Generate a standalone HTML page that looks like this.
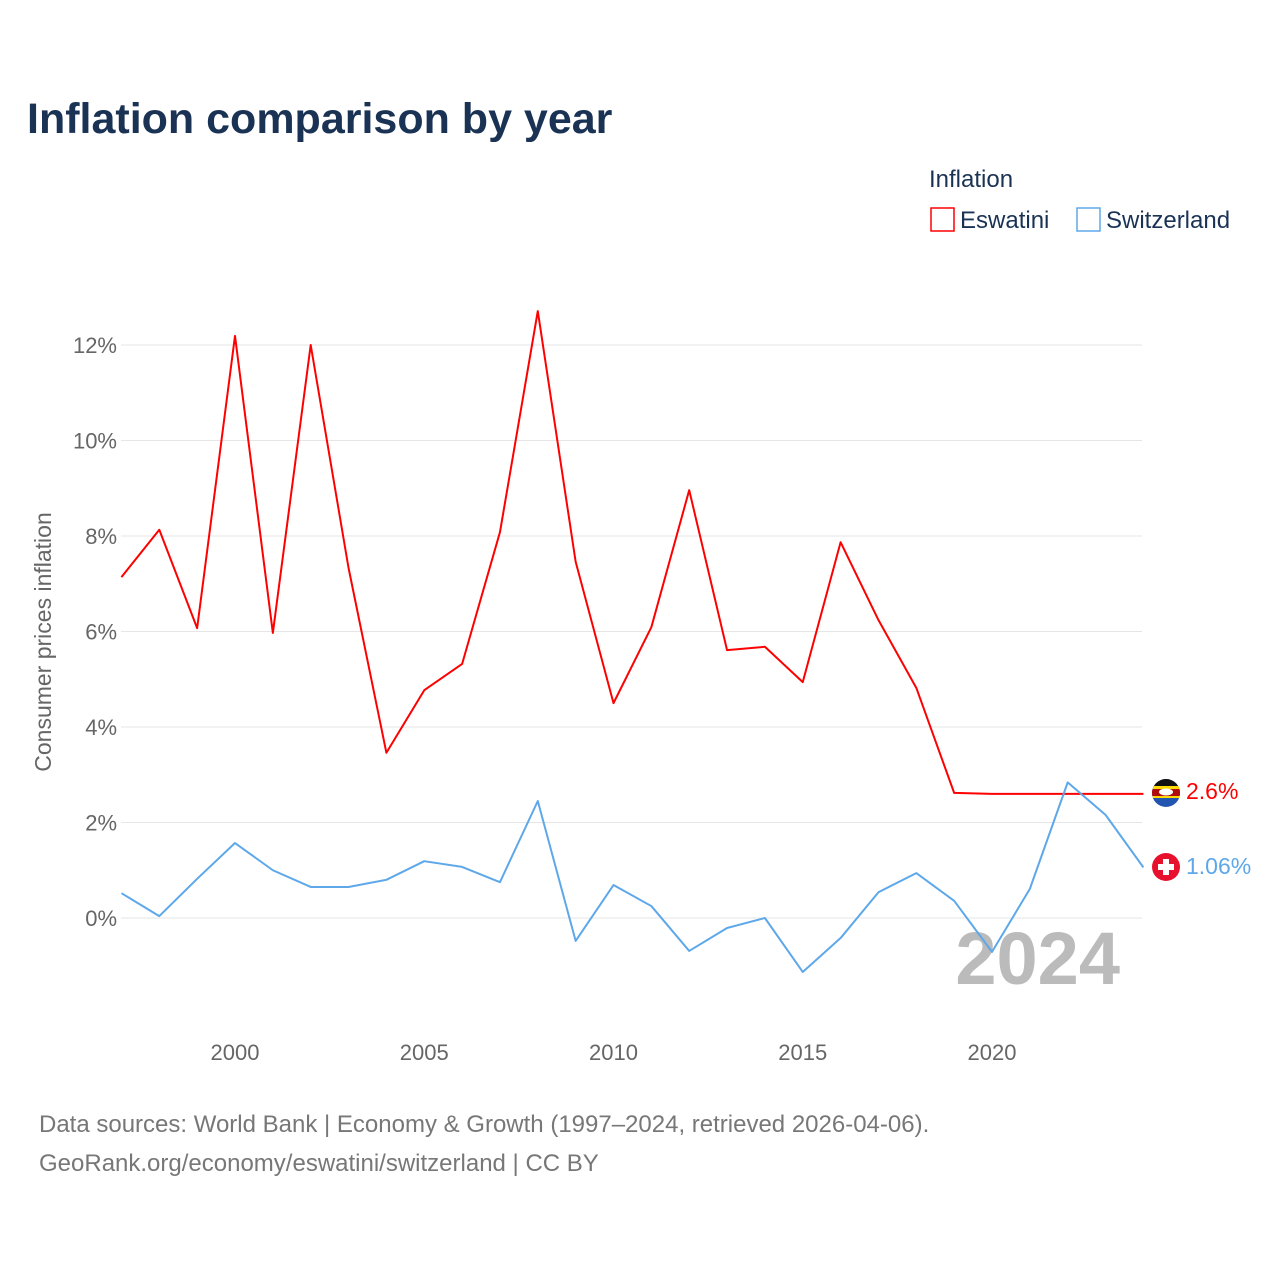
<!DOCTYPE html>
<html><head><meta charset="utf-8"><style>
body{margin:0;background:#fff;width:1280px;height:1280px;overflow:hidden;font-family:"Liberation Sans",sans-serif}
</style></head><body>
<svg width="1280" height="1280" xmlns="http://www.w3.org/2000/svg" font-family="Liberation Sans, sans-serif">
<defs><clipPath id="fc"><circle cx="1166" cy="793" r="14"/></clipPath></defs>
<text x="27" y="133" font-size="43" font-weight="bold" fill="#1a3355">Inflation comparison by year</text>
<text x="929" y="187" font-size="24" fill="#1a3355">Inflation</text>
<g><rect x="931" y="208" width="23" height="23" fill="none" stroke="#f00" stroke-width="1.5"/><text x="960" y="228" font-size="24" fill="#1a3355">Eswatini</text></g>
<g><rect x="1077" y="208" width="23" height="23" fill="none" stroke="#5ea8ea" stroke-width="1.5"/><text x="1106" y="228" font-size="24" fill="#1a3355">Switzerland</text></g>
<g id="grid"></g><g id="yt"></g><g id="xt"></g>
<text transform="translate(51,642) rotate(-90)" text-anchor="middle" font-size="23" fill="#666">Consumer prices inflation</text>
<text x="1120" y="984" text-anchor="end" font-size="74" font-weight="bold" fill="#bbb">2024</text>
<g id="series"></g>
<g clip-path="url(#fc)"><rect x="1152" y="779" width="28" height="28" fill="#2255b0"/><rect x="1152" y="779" width="28" height="9" fill="#111"/><rect x="1152" y="786" width="28" height="3" fill="#ffd900"/><rect x="1152" y="789" width="28" height="7" fill="#b10c0c"/><rect x="1152" y="796" width="28" height="2" fill="#ffd900"/><ellipse cx="1166" cy="792" rx="7" ry="3.5" fill="#fff"/></g>
<g><circle cx="1166" cy="867" r="14" fill="#e8112d"/><rect x="1163" y="859" width="6" height="16" fill="#fff"/><rect x="1158" y="864" width="16" height="6" fill="#fff"/></g>
<text x="1186" y="799" font-size="23" fill="#f00">2.6%</text>
<text x="1186" y="874" font-size="23" fill="#5ea8ea">1.06%</text>
<text x="39" y="1132" font-size="24" fill="#777">Data sources: World Bank | Economy &amp; Growth (1997–2024, retrieved 2026-04-06).</text>
<text x="39" y="1171" font-size="24" fill="#777">GeoRank.org/economy/eswatini/switzerland | CC BY</text>
</svg>
<script>
const years=[1997,1998,1999,2000,2001,2002,2003,2004,2005,2006,2007,2008,2009,2010,2011,2012,2013,2014,2015,2016,2017,2018,2019,2020,2021,2022,2023,2024];
const eswatini=[7.14,8.13,6.07,12.19,5.97,12.0,7.33,3.46,4.77,5.32,8.08,12.71,7.46,4.5,6.09,8.96,5.61,5.68,4.94,7.87,6.24,4.82,2.62,2.6,2.6,2.6,2.6,2.6];
const switzerland=[0.52,0.04,0.82,1.57,1.0,0.65,0.65,0.8,1.19,1.07,0.75,2.45,-0.48,0.69,0.25,-0.69,-0.21,0.0,-1.13,-0.42,0.54,0.94,0.36,-0.71,0.61,2.84,2.16,1.06];
const yTicks=[0,2,4,6,8,10,12];
const xTicks=[2000,2005,2010,2015,2020];
const NS="http://www.w3.org/2000/svg";
const X=y=>235+(y-2000)*(992-235)/20;
const Y=v=>918-v*(918-345)/12;
function mk(t,a,p){const e=document.createElementNS(NS,t);for(const k in a)e.setAttribute(k,a[k]);document.getElementById(p).appendChild(e);return e;}
yTicks.forEach(v=>{
 const l=mk('line',{x1:121,x2:1142,y1:Y(v),y2:Y(v),stroke:'#e6e6e6','stroke-width':1},'grid');
 
 
 const t=mk('text',{x:117,y:Y(v)+8,'text-anchor':'end','font-size':22,fill:'#666'},'yt');
 t.textContent=v+'%';
 
 
});
xTicks.forEach(v=>{
 const t=mk('text',{x:X(v),y:1060,'text-anchor':'middle','font-size':22,fill:'#666'},'xt');
 t.textContent=v;
 
 
});
function line(d,c,n){
 const p=mk('polyline',{points:d.map((v,i)=>X(years[i])+','+Y(v)).join(' '),fill:'none',stroke:c,'stroke-width':2,'stroke-linejoin':'round'},'series');
 
 
}
line(eswatini,'#f00','eswatini-line');
line(switzerland,'#5ea8ea','switzerland-line');
</script>
</body></html>
